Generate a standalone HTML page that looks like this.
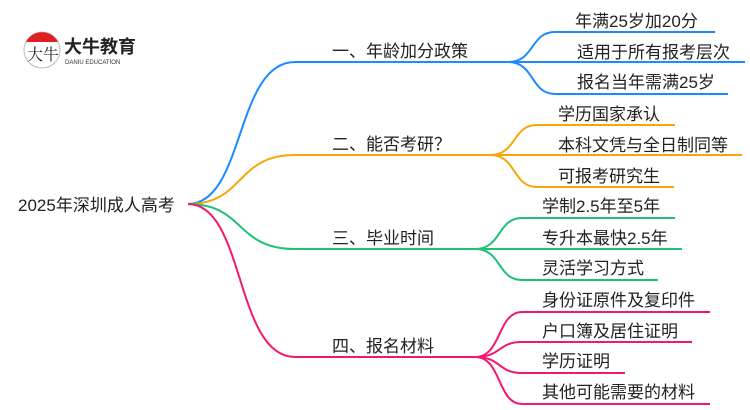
<!DOCTYPE html>
<html><head><meta charset="utf-8"><style>
html,body{margin:0;padding:0;background:#fff;width:750px;height:410px;overflow:hidden}
svg text{font-family:"Liberation Sans","Noto Sans CJK SC",sans-serif;fill:#222}
</style></head><body>
<svg width="750" height="410" viewBox="0 0 750 410" xmlns="http://www.w3.org/2000/svg">
<g fill="none" stroke-width="2">
<path d="M188,204 C245,204 235,62 295,62 L508,62" stroke="#1a8cff"/>
<path d="M188,204 C245,204 235,155 295,155 L490,155" stroke="#f5a70a"/>
<path d="M188,204 C245,204 235,249 295,249 L475,249" stroke="#1ec177"/>
<path d="M188,204 C245,204 235,357 295,357 L475,357" stroke="#f5166f"/>
<g stroke="#1a8cff">
<path d="M508,62 C535,62 530,32 555,32 L715,32"/>
<path d="M508,62 L745,62"/>
<path d="M508,62 C535,62 530,94 555,94 L728,94"/>
</g>
<g stroke="#f5a70a">
<path d="M490,155 C517,155 512,125 537,125 L675,125"/>
<path d="M490,155 L742,155"/>
<path d="M490,155 C517,155 512,187 537,187 L674,187"/>
</g>
<g stroke="#1ec177">
<path d="M475,249 C502,249 497,218 522,218 L675,218"/>
<path d="M475,249 L682,249"/>
<path d="M475,249 C502,249 497,280 522,280 L658,280"/>
</g>
<g stroke="#f5166f">
<path d="M475,357 C502,357 497,312 522,312 L710,312"/>
<path d="M475,357 C502,357 497,342 522,342 L692,342"/>
<path d="M475,357 C502,357 497,373 522,373 L625,373"/>
<path d="M475,357 C502,357 497,404 522,404 L710,404"/>
</g>
</g>
<g font-size="17">
<text x="18" y="211">2025年深圳成人高考</text>
<text x="332" y="57">一、年龄加分政策</text>
<text x="332" y="150">二、能否考研？</text>
<text x="332" y="244">三、毕业时间</text>
<text x="332" y="352">四、报名材料</text>
<text x="575" y="27">年满25岁加20分</text>
<text x="577" y="58">适用于所有报考层次</text>
<text x="577" y="88">报名当年需满25岁</text>
<text x="558" y="120">学历国家承认</text>
<text x="558" y="151">本科文凭与全日制同等</text>
<text x="558" y="182">可报考研究生</text>
<text x="542" y="212">学制2.5年至5年</text>
<text x="542" y="244">专升本最快2.5年</text>
<text x="542" y="274">灵活学习方式</text>
<text x="542" y="306">身份证原件及复印件</text>
<text x="542" y="337">户口簿及居住证明</text>
<text x="542" y="367">学历证明</text>
<text x="542" y="398">其他可能需要的材料</text>
</g>
<g>
<circle cx="42" cy="50" r="18" fill="#fff" stroke="#bbb" stroke-width="1"/>
<path d="M26,42 A18,18 0 0 1 58,42 Z" fill="#e02020"/>
<text x="27" y="60" font-size="16" style="font-family:'Noto Serif CJK SC',serif">大牛</text>
<text x="64" y="53" font-size="18" font-weight="bold" style="fill:#222">大牛教育</text>
<text x="65" y="64" font-size="6" style="fill:#333">DANIU EDUCATION</text>
</g>
</svg>
</body></html>
